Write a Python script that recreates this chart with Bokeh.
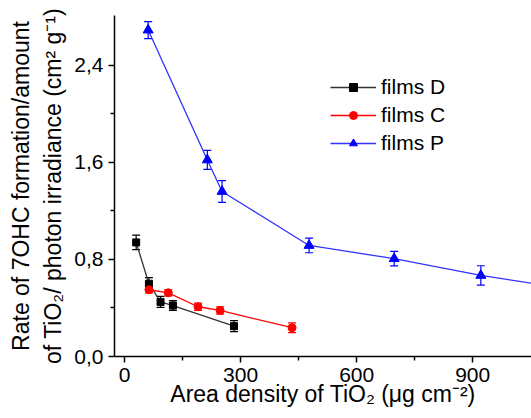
from bokeh.embed import file_html
from bokeh.resources import INLINE
from bokeh.plotting import figure
from bokeh.models import (ColumnDataSource, Range1d, FixedTicker, Whisker, TeeHead,
                          Legend, LegendItem, LinearAxis)

# ---- data -----------------------------------------------------------------
# films D
d_x = [30, 63, 93, 125, 283]
d_y = [0.94, 0.60, 0.45, 0.42, 0.25]
d_err = [0.06, 0.05, 0.045, 0.04, 0.045]

# films C
c_x = [63, 113, 190, 247, 433]
c_y = [0.55, 0.525, 0.41, 0.38, 0.237]
c_err = [0.025, 0.025, 0.03, 0.03, 0.04]

# films P
p_x = [61, 214, 252, 477, 697, 921, 1140]
p_y = [2.69, 1.62, 1.36, 0.915, 0.806, 0.668, 0.56]
p_err = [0.07, 0.078, 0.09, 0.06, 0.06, 0.08, 0.06]

x_ticks = [0, 300, 600, 900]
x_minor = [150, 450, 750]
y_ticks = [0.0, 0.8, 1.6, 2.4]
y_minor = [0.4, 1.2, 2.0]
y_tick_labels = ["0,0", "0,8", "1,6", "2,4"]

x_title = "Area density of TiO\u2082 (\u03bcg cm\u207b\u00b2)"
y_title_1 = "Rate of 7OHC formation/amount"
y_title_2 = "of TiO\u2082/ photon irradiance (cm\u00b2 g\u207b\u00b9)"

# ---- figure -----------------------------------------------------------------
W, H = 531, 418
FONT = "Liberation Sans"

p = figure(width=W, height=H, output_backend="svg", toolbar_location=None,
           x_range=Range1d(-26, 1052), y_range=Range1d(0.0, 2.81),
           min_border_left=114, min_border_right=0,
           min_border_top=15, min_border_bottom=62)
p.outline_line_color = None
p.grid.visible = False
p.background_fill_color = "white"
p.border_fill_color = "white"

for ax in (p.xaxis[0], p.yaxis[0]):
    ax.axis_line_color = "black"
    ax.axis_line_width = 1.5
    ax.major_tick_line_color = "black"
    ax.minor_tick_line_color = "black"
    ax.major_tick_line_width = 1.5
    ax.minor_tick_line_width = 1.5
    ax.major_tick_in = 0
    ax.major_tick_out = 6
    ax.minor_tick_in = 0
    ax.minor_tick_out = 4
    ax.major_label_text_font = FONT
    ax.major_label_text_font_size = "21px"
    ax.major_label_text_color = "black"
    ax.axis_label_text_font = FONT
    ax.axis_label_text_font_size = "23px"
    ax.axis_label_text_font_style = "normal"
    ax.axis_label_text_color = "black"

p.xaxis.ticker = FixedTicker(ticks=x_ticks, minor_ticks=x_minor)
p.yaxis.ticker = FixedTicker(ticks=y_ticks, minor_ticks=y_minor)
p.yaxis.major_label_overrides = {t: s for t, s in zip(y_ticks, y_tick_labels)}
p.xaxis.major_label_standoff = 5
p.yaxis.major_label_standoff = 5

p.xaxis.axis_label = x_title
p.xaxis.axis_label_standoff = -4
p.yaxis.axis_label = y_title_2
p.yaxis.axis_label_standoff = 5

# outer line of the y title: a bare axis carrying only its label
outer = LinearAxis(ticker=FixedTicker(ticks=[]), axis_label=y_title_1,
                   axis_line_color=None, major_tick_out=0, major_tick_in=0,
                   minor_tick_out=0, minor_tick_in=0,
                   axis_label_text_font=FONT, axis_label_text_font_size="23px",
                   axis_label_text_font_style="normal",
                   axis_label_text_color="black", axis_label_standoff=4)
p.add_layout(outer, "left")

# ---- series -----------------------------------------------------------------
def series(xs, ys, errs, color, marker, size, line_color=None):
    src = ColumnDataSource(dict(x=xs, y=ys,
                                lo=[v - e for v, e in zip(ys, errs)],
                                hi=[v + e for v, e in zip(ys, errs)]))
    lc = line_color or color
    w = Whisker(source=src, base="x", lower="lo", upper="hi",
                line_color=color, line_width=1.2,
                lower_head=TeeHead(size=8, line_color=color, line_width=1.2),
                upper_head=TeeHead(size=8, line_color=color, line_width=1.2))
    p.add_layout(w)
    ln = p.line("x", "y", source=src, line_color=lc, line_width=1.3)
    mk = p.scatter("x", "y", source=src, marker=marker, size=size,
                   fill_color=color, line_color=color)
    return [ln, mk]

r_d = series(d_x, d_y, d_err, "black", "square", 7, line_color="#333333")
r_c = series(c_x, c_y, c_err, "#ff0000", "circle", 8)
r_p = series(p_x, p_y, p_err, "#0000ff", "triangle", 10, line_color="#3333ff")

legend = Legend(items=[LegendItem(label="films D", renderers=r_d),
                       LegendItem(label="films C", renderers=r_c),
                       LegendItem(label="films P", renderers=r_p)],
                location=(216, 201), orientation="vertical",
                glyph_width=46, glyph_height=20, label_height=20,
                label_standoff=5, spacing=4, padding=0, margin=0,
                border_line_color=None, background_fill_alpha=0,
                label_text_font=FONT, label_text_font_size="21px",
                label_text_color="black")
p.add_layout(legend)

open("out.html", "w").write(file_html(p, INLINE))
